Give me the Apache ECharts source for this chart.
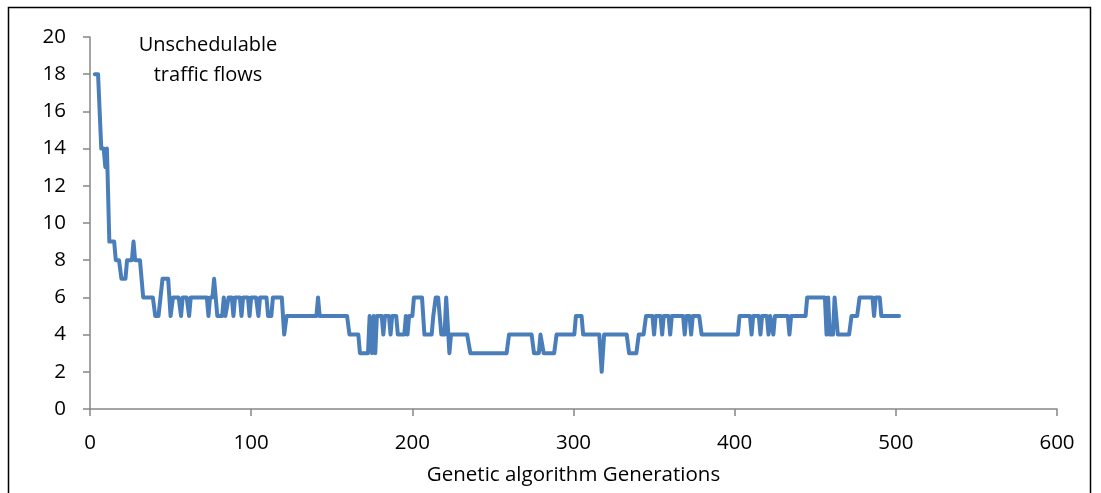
<!DOCTYPE html>
<html>
<head>
<meta charset="utf-8">
<script src="https://cdn.jsdelivr.net/npm/echarts@6/dist/echarts.min.js"></script>
<style>
html,body{margin:0;padding:0;background:#fff;}
#chart{width:1101px;height:493px;}
</style>
</head>
<body>
<div id="chart"></div>
<script>
// Generation at which each vertex of the line lies
var generations = [
  3,5,7,8.5,9.5,10.5,11,12,15,16,18,19.5,22,23,26,27,28,31,33,39,40.5,42.5,45,48.5,50,51.5,55,56.5,57.5,60,61.5,62.5,72.5,73.5,74.5,76,77,78,79,82,83,
  84,85,86,88,89,90,93,94,95,98,99,100,103,104.5,105.5,109.5,110.5,112.5,113.5,119,120.5,122,140.5,141.5,142.5,159.5,161,166.5,167.5,172.5,173.5,175,176,177,178,181,182,183,185.5,186.5,187.5,190,191,195,196,197,
  198,200,201,206,207.5,212,213,214.5,216,217,218,220,221,222,223,224,234,236,258.5,260,274,275.5,278.5,279.5,280.5,281.5,288,289.5,300.5,301.5,305,306,316,317.5,319,
  333,334.5,339,340.5,343.5,345,349,350,351,354,355,356,359,360,361,368,369,370,372,373,374,378,379.5,402,403,409.5,410.5,411.5,415,416,417,420,421,422,423,424,425,433,434,435,444,445,456,457,458,459,461,462,463,464,471,472.5,476,477.5,485.5,486.5,487.5,490,491,502
];
// Number of unschedulable traffic flows at each vertex
var flows = [
  18,18,14,14,13,14,14,9,9,8,8,7,7,8,8,9,8,8,6,6,5,5,7,7,5,6,6,5,6,6,5,6,6,5,6,6,7,6,5,5,6,
  5,5,6,6,5,6,6,5,6,6,5,6,6,5,6,6,5,5,6,6,4,5,5,6,5,5,4,4,3,3,5,3,5,3,5,5,4,5,5,4,5,5,4,4,5,4,
  5,5,6,6,4,4,5,6,6,5,4,4,6,6,3,4,4,3,3,4,4,3,3,4,4,3,3,4,4,5,5,4,4,2,4,
  4,3,3,4,4,5,5,4,5,5,4,5,5,4,5,5,4,5,5,4,5,5,4,4,5,5,4,5,5,4,5,5,4,5,5,4,5,5,4,5,5,6,6,4,6,4,4,6,6,4,4,5,5,6,6,5,6,6,5,5
];
var xTicks = [0, 100, 200, 300, 400, 500, 600];
var yTicks = [0, 2, 4, 6, 8, 10, 12, 14, 16, 18, 20];
var xTitle = 'Genetic algorithm Generations';
var seriesLabel = ['Unschedulable', 'traffic flows'];

var points = generations.map(function (g, i) { return [g, flows[i]]; });
var FONT = '"Open Sans", "Liberation Sans", sans-serif';
var chart = echarts.init(document.getElementById('chart'), null, {renderer: 'canvas'});
chart.setOption({
  animation: false,
  backgroundColor: '#ffffff',
  grid: {left: 90, right: 44, top: 37, bottom: 84, containLabel: false},
  xAxis: {
    type: 'value', min: xTicks[0], max: xTicks[xTicks.length - 1], interval: 100,
    name: xTitle, nameLocation: 'middle', nameGap: 56,
    nameTextStyle: {fontFamily: FONT, fontSize: 20.5, color: '#000'},
    axisLine: {show: true, lineStyle: {color: '#868686', width: 1.5}},
    axisTick: {show: true, inside: false, length: 7, lineStyle: {color: '#868686', width: 1.5}},
    axisLabel: {fontFamily: FONT, fontSize: 20.5, color: '#000', margin: 24},
    splitLine: {show: false}
  },
  yAxis: {
    type: 'value', min: yTicks[0], max: yTicks[yTicks.length - 1], interval: 2,
    axisLine: {show: true, lineStyle: {color: '#868686', width: 1.5}},
    axisTick: {show: true, inside: false, length: 7, lineStyle: {color: '#868686', width: 1.5}},
    axisLabel: {fontFamily: FONT, fontSize: 20.5, color: '#000', margin: 24},
    splitLine: {show: false}
  },
  graphic: [
    {type: 'rect', shape: {x: 8.5, y: 7.5, width: 1082, height: 520}, style: {fill: 'none', stroke: '#000', lineWidth: 1.5}, silent: true, z: -1},
    {type: 'text', x: 208, y: 60, style: {text: seriesLabel.join('\n'), fontFamily: FONT, fontSize: 20, lineHeight: 30, fill: '#000', textAlign: 'center', textVerticalAlign: 'middle'}}
  ],
  series: [{
    type: 'line', data: points, showSymbol: false, symbol: 'none',
    lineStyle: {color: '#4A7EBB', width: 4, cap: 'round', join: 'round'}
  }]
});
</script>
</body>
</html>
